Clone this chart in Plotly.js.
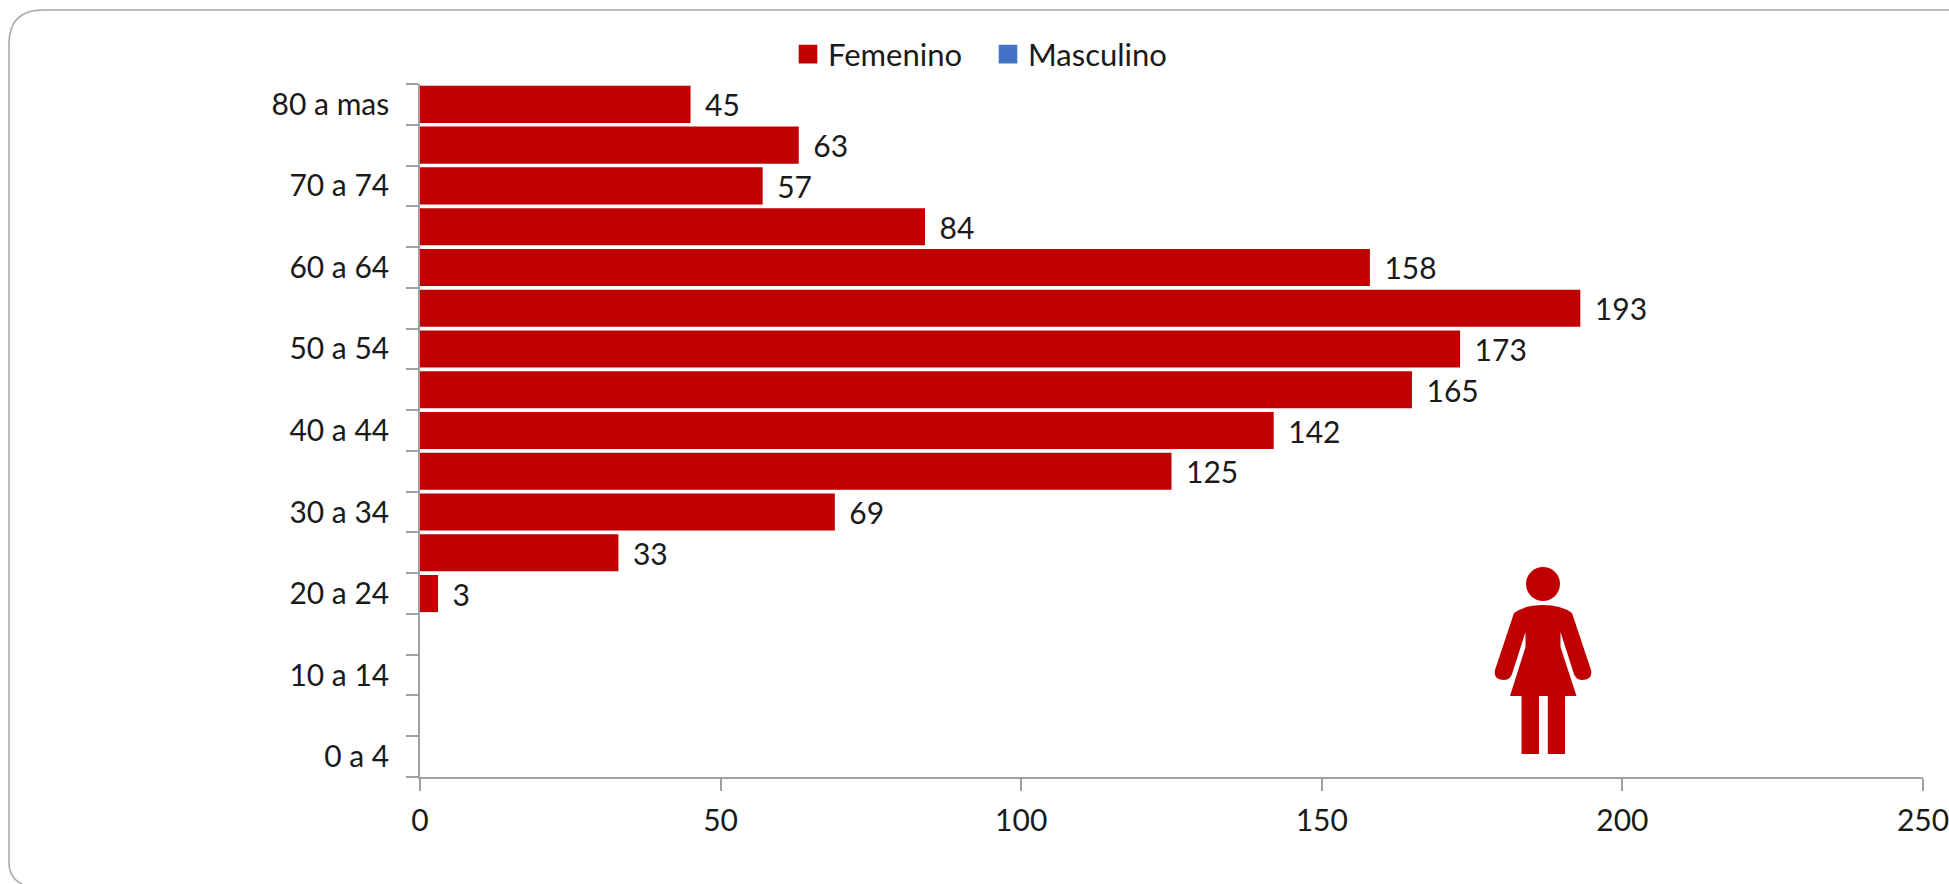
<!DOCTYPE html>
<html><head><meta charset="utf-8">
<script src="https://cdn.plot.ly/plotly-3.0.1.min.js"></script>
<style>html,body{margin:0;padding:0;background:#fff}</style></head>
<body><div id="chart" style="width:1949px;height:884px"></div>
<script>
const categories = ["0 a 4","5 a 9","10 a 14","15 a 19","20 a 24","25 a 29","30 a 34","35 a 39","40 a 44","45 a 49","50 a 54","55 a 59","60 a 64","65 a 69","70 a 74","75 a 79","80 a mas"];
const femenino = [null,null,null,null,3,33,69,125,142,165,173,193,158,84,57,63,45];
const masculino = [null,null,null,null,null,null,null,null,null,null,null,null,null,null,null,null,null];
const xTicks = [0,50,100,150,200,250];

const W=1949,H=884,L=420,R=1923,T=84,B=777;
const FONT='Lato, "Open Sans", sans-serif', INK='#1a1a1a', AXIS='#a0a0a0';
const px=x=>(x-L)/(R-L), py=y=>(B-y)/(B-T);
const P=(x,y)=>px(x).toFixed(5)+','+py(y).toFixed(5);
const woman='M'+P(1543,605)+' Q'+P(1525,605)+' '+P(1514,613)+' L'+P(1495,670)+' Q'+P(1493,680)+' '+P(1504,680)+' Q'+P(1511,680)+' '+P(1513,671)+' L'+P(1525.5,632)+' L'+P(1525.5,647)+' L'+P(1510,696)+' L'+P(1521.5,696)+' L'+P(1521.5,754)+' L'+P(1539,754)+' L'+P(1539,696)+' L'+P(1547.8,696)+' L'+P(1547.8,754)+' L'+P(1565,754)+' L'+P(1565,696)+' L'+P(1576.5,696)+' L'+P(1560.5,647)+' L'+P(1560.5,632)+' L'+P(1573,671)+' Q'+P(1575,680)+' '+P(1582,680)+' Q'+P(1593,680)+' '+P(1591,670)+' L'+P(1572,613)+' Q'+P(1561,605)+' '+P(1543,605)+' Z';
const r=34,bl=9,bt=10;
const frame='M'+P(22,884)+' Q'+P(bl,878)+' '+P(bl,862)+' L'+P(bl,bt+r)+' Q'+P(bl,bt)+' '+P(bl+r,bt)+' L'+P(1949,bt);

const traces=[
 {type:'bar',orientation:'h',name:'Femenino',y:categories,x:femenino,marker:{color:'#C00000'},
  text:femenino.map(v=>v===null?'':'\u00A0<span style="font-size:15px">\u00A0</span>'+v),textposition:'outside',cliponaxis:false,
  textfont:{family:FONT,size:30,color:INK}},
 {type:'bar',orientation:'h',name:'Masculino',y:categories,x:masculino,marker:{color:'#4472C4'}}
];
const layout={
 width:W,height:H,paper_bgcolor:'#fff',plot_bgcolor:'#fff',
 margin:{l:L,r:W-R,t:T,b:H-B,pad:0},
 barmode:'overlay',bargap:0.09,showlegend:true,
 font:{family:FONT,size:30,color:INK},
 legend:{orientation:'h',x:px(788),y:py(27.5),xanchor:'left',yanchor:'top',entrywidth:155,entrywidthmode:'pixels',font:{family:FONT,size:31,color:INK},bgcolor:'rgba(0,0,0,0)',itemclick:false,traceorder:'normal'},
 xaxis:{range:[0,250],tickvals:xTicks,ticks:'outside',ticklen:12,tickwidth:1.5,tickcolor:AXIS,showline:true,linecolor:AXIS,linewidth:1.5,showgrid:false,zeroline:false,tickfont:{family:FONT,size:30,color:INK},ticklabelstandoff:4,ticklabeloverflow:'allow'},
 yaxis:{type:'category',categoryorder:'array',categoryarray:categories,range:[-0.5,16.5],dtick:1,tickson:'boundaries',ticklabelstep:2,ticks:'outside',ticklen:12,tickwidth:1.5,tickcolor:AXIS,showline:true,linecolor:AXIS,linewidth:1.5,showgrid:false,zeroline:false,tickfont:{family:FONT,size:30,color:INK},ticklabelstandoff:23},
 shapes:[
  {type:'path',xref:'paper',yref:'paper',path:frame,line:{color:'#a6a6a6',width:1.5},fillcolor:'rgba(0,0,0,0)',layer:'below'},
  {type:'circle',xref:'paper',yref:'paper',x0:px(1526),x1:px(1560),y0:py(601),y1:py(567),line:{width:0},fillcolor:'#C00000'},
  {type:'path',xref:'paper',yref:'paper',path:woman,line:{width:0},fillcolor:'#C00000'}
 ]
};
Plotly.newPlot('chart',traces,layout,{displayModeBar:false,responsive:false}).then(()=>{
 document.querySelectorAll('.legend .legendpoints path').forEach(p=>{
   const t=p.getAttribute('transform')||'';
   p.setAttribute('transform',t+' scale(1.55)');
 });
});
</script></body></html>
